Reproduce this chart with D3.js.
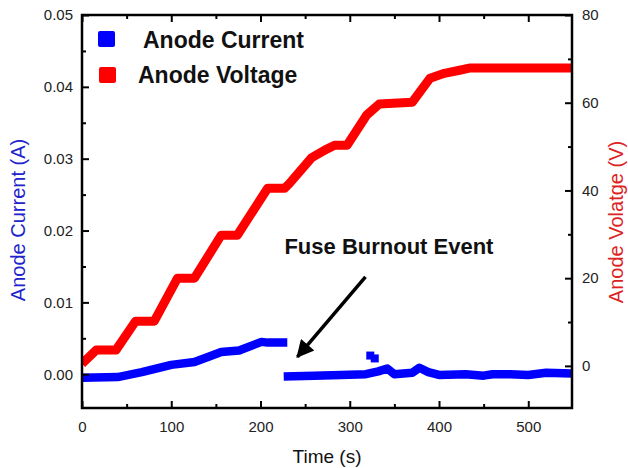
<!DOCTYPE html>
<html>
<head>
<meta charset="utf-8">
<script src="https://cdn.jsdelivr.net/npm/d3@7"></script>
<style>
  body { margin: 0; background: #fff; }
  svg { font-family: "Liberation Sans", Arial, sans-serif; }
</style>
</head>
<body>
<svg id="chart" width="628" height="468"></svg>
<script>
// anode voltage (V) vs time (s)
const voltage = [
  [0, 0.5], [16, 3.6], [38, 3.6], [60, 10.2], [81, 10.2], [107, 20], [126, 20],
  [156, 29.8], [174, 29.8], [208, 40.5], [227, 40.5], [232, 41.5], [257, 47.4],
  [272, 49.2], [283, 50.3], [297, 50.3], [319, 57.2], [333, 59.7], [370, 60.1],
  [390, 65.6], [406, 66.7], [423, 67.4], [434, 67.9], [549, 67.9]
];
// anode current (A) before the fuse burns out
const currentBefore = [
  [0, -0.0005], [40, -0.0004], [67, 0.0003], [100, 0.0013], [126, 0.0017],
  [156, 0.0031], [176, 0.0033], [201, 0.0045], [208, 0.0044], [230, 0.0044]
];
// anode current (A) after the burnout
const currentAfter = [
  [226, -0.0003], [260, -0.0002], [290, -0.0001], [318, 0.0000], [332, 0.0004],
  [342, 0.0008], [350, 0.0000], [370, 0.0002], [378, 0.0009], [388, 0.0003],
  [400, -0.0001], [430, 0.0000], [450, -0.0002], [460, 0.0000], [480, 0.0000],
  [500, -0.0001], [520, 0.0002], [549, 0.0001]
];
// stray current readings
const currentStray = [[323, 0.0026], [328, 0.0022]];

const xTicks = [0, 100, 200, 300, 400, 500];
const xMinor = [50, 150, 250, 350, 450];
const iTicks = [0, 0.01, 0.02, 0.03, 0.04, 0.05];
const iMinor = [0.005, 0.015, 0.025, 0.035, 0.045];
const vTicks = [0, 20, 40, 60, 80];
const vMinor = [10, 30, 50, 70];

const svg = d3.select("svg#chart");
const L = 82, R = 572, T = 15, B = 408;

let x = d3.scaleLinear().domain([0, 549]).range([L, R]);
let yI = d3.scaleLinear().domain([-0.0047, 0.05]).range([B, T]);
let yV = d3.scaleLinear().domain([-9.6, 80]).range([B, T]);

svg.append("clipPath").attr("id", "plot")
  .append("rect").attr("x", L).attr("y", T).attr("width", R - L).attr("height", B - T);

let plot = svg.append("g").attr("clip-path", "url(#plot)");

let lineI = d3.line().x(d => x(d[0])).y(d => yI(d[1]));
let lineV = d3.line().x(d => x(d[0])).y(d => yV(d[1]));

[currentBefore, currentAfter].forEach(seg => {
  plot.append("path").attr("d", lineI(seg))
    .attr("fill", "none").attr("stroke", "#0000ff").attr("stroke-width", 8.5)
    .attr("stroke-linejoin", "round");
});
plot.selectAll("rect.stray").data(currentStray).join("rect")
  .attr("class", "stray")
  .attr("x", d => x(d[0]) - 4).attr("y", d => yI(d[1]) - 4)
  .attr("width", 8).attr("height", 8).attr("fill", "#0000ff");

plot.append("path").attr("d", lineV(voltage))
  .attr("fill", "none").attr("stroke", "#ff0000").attr("stroke-width", 9)
  .attr("stroke-linejoin", "round");

// axes, all ticks pointing inward
function ticks(axis, pos, major, minor, fmt, pad) {
  let g = svg.append("g").attr("transform", pos);
  g.call(axis.tickValues(major).tickSize(-7).tickSizeOuter(0).tickPadding(pad).tickFormat(fmt));
  let m = svg.append("g").attr("transform", pos);
  m.call(axis.tickValues(minor).tickSize(-4).tickFormat(""));
  [g, m].forEach(s => {
    s.select(".domain").remove();
    s.selectAll("line").attr("stroke", "#000").attr("stroke-width", 2);
    s.selectAll("text").attr("font-size", 15).attr("fill", "#222");
  });
}
ticks(d3.axisBottom(x), `translate(0,${B})`, xTicks, xMinor, d3.format("d"), 13);
ticks(d3.axisTop(x), `translate(0,${T})`, xTicks, xMinor, () => "", 0);
ticks(d3.axisLeft(yI), `translate(${L},0)`, iTicks, iMinor, d3.format(".2f"), 9);
ticks(d3.axisRight(yV), `translate(${R},0)`, vTicks, vMinor, d3.format("d"), 10);

svg.append("rect").attr("x", L).attr("y", T).attr("width", R - L).attr("height", B - T)
  .attr("fill", "none").attr("stroke", "#000").attr("stroke-width", 2.5);

// axis titles
svg.append("text").attr("x", (L + R) / 2 + 0).attr("y", 463)
  .attr("text-anchor", "middle").attr("font-size", 19).attr("fill", "#111").text("Time (s)");
svg.append("text").attr("transform", "translate(25,220) rotate(-90)")
  .attr("text-anchor", "middle").attr("font-size", 20).attr("fill", "#2222cc").text("Anode Current (A)");
svg.append("text").attr("transform", "translate(623,222) rotate(-90)")
  .attr("text-anchor", "middle").attr("font-size", 20).attr("fill", "#dd2222").text("Anode Volatge (V)");

// legend
const legend = [
  {name: "Anode Current", color: "#0000ff", sx: 98, sy: 31, tx: 143, ty: 48},
  {name: "Anode Voltage", color: "#ff0000", sx: 99, sy: 67, tx: 138, ty: 83}
];
legend.forEach(d => {
  svg.append("rect").attr("x", d.sx).attr("y", d.sy).attr("width", 17).attr("height", 16)
    .attr("rx", 2).attr("fill", d.color);
  svg.append("text").attr("x", d.tx).attr("y", d.ty).attr("font-size", 23)
    .attr("font-weight", "bold").attr("fill", "#111").text(d.name);
});

// annotation
svg.append("defs").append("marker").attr("id", "head")
  .attr("viewBox", "0 0 10 10").attr("refX", 9).attr("refY", 5)
  .attr("markerWidth", 6).attr("markerHeight", 5).attr("orient", "auto")
  .attr("markerUnits", "strokeWidth")
  .append("path").attr("d", "M0,0 L10,5 L0,10 z").attr("fill", "#000");
svg.append("line")
  .attr("x1", x(317.6)).attr("y1", yI(0.01354))
  .attr("x2", x(241.4)).attr("y2", yI(0.00243))
  .attr("stroke", "#000").attr("stroke-width", 3.5).attr("marker-end", "url(#head)");
svg.append("text").attr("x", x(226.8)).attr("y", yI(0.01674))
  .attr("font-size", 22).attr("font-weight", "bold").attr("fill", "#111").text("Fuse Burnout Event");
</script>
</body>
</html>
